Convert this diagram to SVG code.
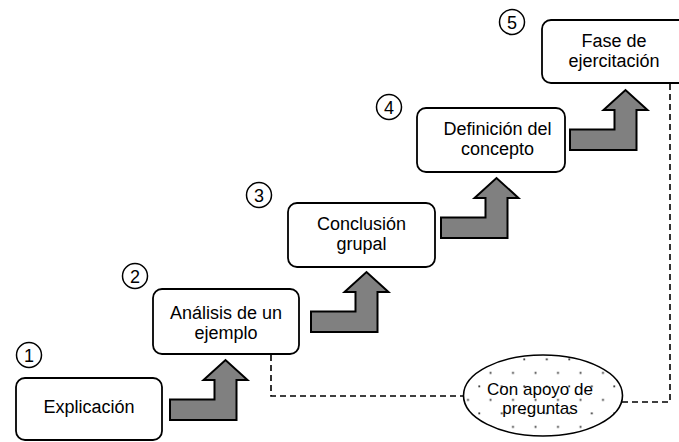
<svg xmlns="http://www.w3.org/2000/svg" width="679" height="442" viewBox="0 0 679 442">
<style>
.box{fill:#fff;stroke:#000;stroke-width:1.8}
.num{fill:#fff;stroke:#000;stroke-width:1.5}
.t{font-family:"Liberation Sans",Arial,sans-serif;font-size:18px;fill:#000;text-anchor:middle}
.te{font-family:"Liberation Sans",Arial,sans-serif;font-size:17px;fill:#000;text-anchor:middle}
.arr{fill:#808080;stroke:#000;stroke-width:2;stroke-linejoin:miter}
.dash{fill:none;stroke:#000;stroke-width:1.6;stroke-dasharray:6 4}
</style>
<defs>
<path id="step" d="M0,39.5 H44.5 V20 H33.5 L55.5,0 L77.5,20 H66.5 V60 H0 Z"/>
<pattern id="dots" patternUnits="userSpaceOnUse" x="496.7" y="354.3" width="22.5" height="27">
<rect width="22.5" height="27" fill="#fff"/>
<rect x="4.2" y="4.2" width="1.8" height="1.8" fill="#333"/>
<rect x="15.4" y="17.7" width="1.8" height="1.8" fill="#333"/>
</pattern>
</defs>
<g id="connectors">
<polyline class="dash" points="271,355 271,396 464,396"/>
<polyline class="dash" points="622,402 670,402 670,84"/>
<use href="#step" class="arr" x="170" y="360"/>
<use href="#step" class="arr" x="311" y="272"/>
<use href="#step" class="arr" x="441" y="178"/>
<use href="#step" class="arr" x="570" y="90"/>
</g>
<g id="n1">
<rect class="box" x="16" y="378" width="146" height="62" rx="9"/>
<text class="t" x="89" y="413">Explicación</text>
</g>
<g id="n2">
<rect class="box" x="153" y="289" width="146" height="65" rx="9"/>
<text class="t" x="226" y="319">Análisis de un</text>
<text class="t" x="226" y="339">ejemplo</text>
</g>
<g id="n3">
<rect class="box" x="288" y="203" width="147" height="64" rx="9"/>
<text class="t" x="361.5" y="229.5">Conclusión</text>
<text class="t" x="361.5" y="250">grupal</text>
</g>
<g id="n4">
<rect class="box" x="417" y="108" width="148" height="64" rx="9"/>
<text class="t" x="497.5" y="135">Definición del</text>
<text class="t" x="497.5" y="154.5">concepto</text>
</g>
<g id="n5">
<rect class="box" x="542" y="20" width="146" height="63" rx="9"/>
<text class="t" x="614" y="47">Fase de</text>
<text class="t" x="614" y="67">ejercitación</text>
</g>
<g id="ellipse">
<ellipse cx="543" cy="395.5" rx="79.5" ry="40.5" fill="url(#dots)" stroke="#000" stroke-width="1.6"/>
<text class="te" x="540" y="395">Con apoyo de</text>
<text class="te" x="540" y="414">preguntas</text>
</g>
<g id="c1"><circle class="num" cx="29" cy="355" r="12.5"/><text class="t" x="29" y="361.5">1</text></g>
<g id="c2"><circle class="num" cx="135" cy="276" r="12.5"/><text class="t" x="135" y="282.5">2</text></g>
<g id="c3"><circle class="num" cx="259" cy="195" r="12.5"/><text class="t" x="259" y="201.5">3</text></g>
<g id="c4"><circle class="num" cx="389" cy="107" r="12.5"/><text class="t" x="389" y="113.5">4</text></g>
<g id="c5"><circle class="num" cx="512" cy="22" r="12.5"/><text class="t" x="512" y="28.5">5</text></g>
</svg>
